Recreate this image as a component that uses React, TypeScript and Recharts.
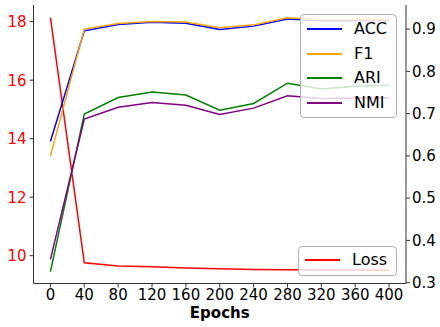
import React from 'react';
import { LineChart, Line, XAxis, YAxis, Label } from 'recharts';

const epochs = [0, 40, 80, 120, 160, 200, 240, 280, 320, 360, 400];
const loss = [18.14, 9.76, 9.65, 9.62, 9.58, 9.55, 9.53, 9.52, 9.51, 9.51, 9.5];
const acc = [0.634, 0.896, 0.911, 0.916, 0.914, 0.899, 0.907, 0.924, 0.92, 0.92, 0.921];
const f1 = [0.6, 0.9, 0.913, 0.918, 0.917, 0.903, 0.91, 0.927, 0.922, 0.922, 0.922];
const ari = [0.326, 0.699, 0.738, 0.751, 0.744, 0.708, 0.724, 0.772, 0.758, 0.765, 0.767];
const nmi = [0.355, 0.687, 0.715, 0.726, 0.72, 0.698, 0.713, 0.742, 0.736, 0.737, 0.737];

const xTicks = [0, 40, 80, 120, 160, 200, 240, 280, 320, 360, 400];
const leftTicks = [10, 12, 14, 16, 18];
const rightTicks = [0.3, 0.4, 0.5, 0.6, 0.7, 0.8, 0.9];

const data = epochs.map((e, i) => ({
  epoch: e,
  loss: loss[i],
  acc: acc[i],
  f1: f1[i],
  ari: ari[i],
  nmi: nmi[i],
}));

const FONT = 'DejaVu Sans';
const AXIS = '#333333';

const metricLegend = [
  { name: 'ACC', color: 'blue' },
  { name: 'F1', color: 'orange' },
  { name: 'ARI', color: 'green' },
  { name: 'NMI', color: 'purple' },
];

function LegendBox({ left, top, width, height, items, rowStart, rowGap }: any) {
  return (
    <div
      style={{
        position: 'absolute',
        left,
        top,
        width,
        height,
        boxSizing: 'border-box',
        border: '1px solid #b0b0b0',
        borderRadius: 4,
        background: 'rgba(255,255,255,0.8)',
        fontFamily: FONT,
        fontSize: 16,
        color: '#000',
      }}
    >
      {items.map((it: any, i: number) => {
        const cy = rowStart + i * rowGap;
        return (
          <React.Fragment key={it.name}>
            <div
              style={{
                position: 'absolute',
                left: 6,
                top: cy - 1,
                width: 35,
                height: 2,
                background: it.color,
              }}
            />
            <div
              style={{
                position: 'absolute',
                left: 53,
                top: cy - 10,
                lineHeight: '20px',
                whiteSpace: 'nowrap',
              }}
            >
              {it.name}
            </div>
          </React.Fragment>
        );
      })}
    </div>
  );
}

export default function App() {
  return (
    <div style={{ position: 'absolute', left: 0, top: 0, width: 440, height: 327, background: '#fff' }}>
      <LineChart width={440} height={327} data={data} margin={{ top: 5, right: 0, left: 0, bottom: 0 }}>
        <XAxis
          dataKey="epoch"
          type="number"
          domain={[-20, 420]}
          ticks={xTicks}
          interval={0}
          height={43.5}
          tickSize={4}
          tickMargin={2}
          stroke={AXIS}
          tick={{ fill: '#000', fontSize: 15, fontFamily: FONT }}
          tickLine={{ stroke: AXIS }}
          axisLine={{ stroke: AXIS }}
        >
          <Label
            value="Epochs"
            position="insideBottom"
            offset={9}
            style={{ fontFamily: FONT, fontSize: 15, fontWeight: 'bold', fill: '#000' }}
          />
        </XAxis>
        <XAxis
          xAxisId="top"
          dataKey="epoch"
          type="number"
          orientation="top"
          domain={[-20, 420]}
          height={0}
          tick={false}
          tickLine={false}
          axisLine={{ stroke: AXIS }}
        />
        <YAxis
          yAxisId="left"
          orientation="left"
          type="number"
          domain={[9.05, 18.57]}
          ticks={leftTicks}
          interval={0}
          width={33.5}
          tickSize={4}
          tickMargin={3}
          tick={{ fill: 'red', fontSize: 15, fontFamily: FONT }}
          tickLine={{ stroke: AXIS }}
          axisLine={{ stroke: AXIS }}
          allowDataOverflow
        />
        <YAxis
          yAxisId="right"
          orientation="right"
          type="number"
          domain={[0.298, 0.957]}
          ticks={rightTicks}
          interval={0}
          width={34}
          tickSize={4}
          tickMargin={2}
          tickFormatter={(v: number) => v.toFixed(1)}
          tick={{ fill: '#000', fontSize: 15, fontFamily: FONT }}
          tickLine={{ stroke: AXIS }}
          axisLine={{ stroke: AXIS }}
          allowDataOverflow
        />
        <Line yAxisId="left" dataKey="loss" stroke="red" strokeWidth={1.5} dot={false} isAnimationActive={false} />
        <Line yAxisId="right" dataKey="acc" stroke="blue" strokeWidth={1.5} dot={false} isAnimationActive={false} />
        <Line yAxisId="right" dataKey="f1" stroke="orange" strokeWidth={1.5} dot={false} isAnimationActive={false} />
        <Line yAxisId="right" dataKey="ari" stroke="green" strokeWidth={1.5} dot={false} isAnimationActive={false} />
        <Line yAxisId="right" dataKey="nmi" stroke="purple" strokeWidth={1.5} dot={false} isAnimationActive={false} />
      </LineChart>
      <LegendBox left={300} top={14} width={97} height={104} items={metricLegend} rowStart={14} rowGap={24.5} />
      <LegendBox left={298} top={246} width={99} height={29.5} items={[{ name: 'Loss', color: 'red' }]} rowStart={13} rowGap={0} />
    </div>
  );
}
